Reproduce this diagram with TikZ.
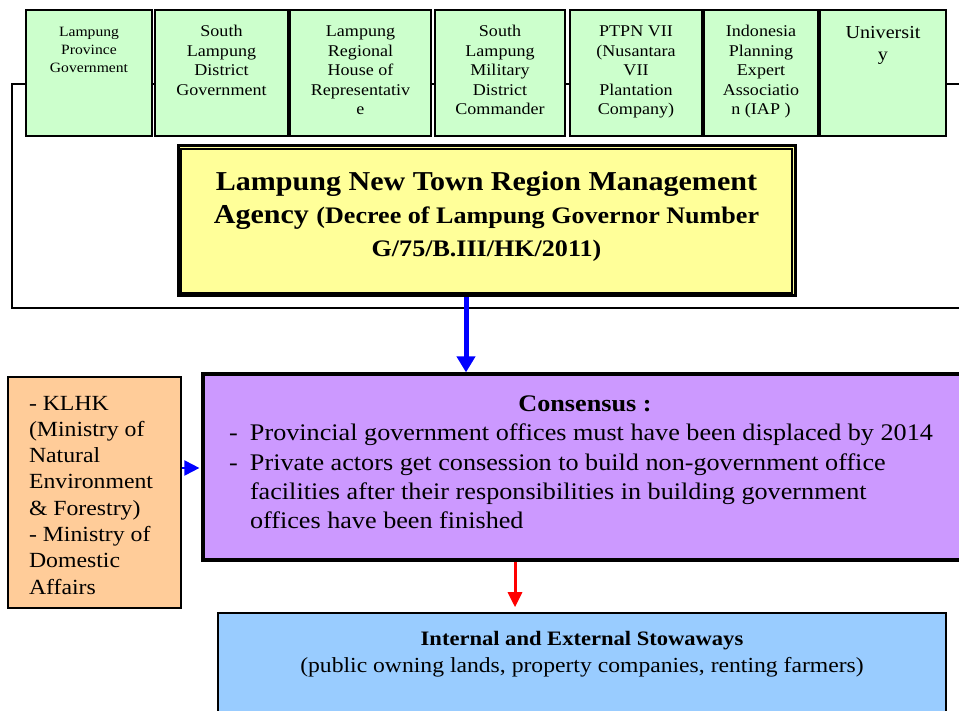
\documentclass[tikz,border=0pt]{standalone}
\usepackage{fontspec}
\setmainfont{Liberation Serif}[FakeStretch=1.1]
\usetikzlibrary{arrows.meta}

\definecolor{membergreen}{HTML}{CCFFCC}
\definecolor{agencyyellow}{HTML}{FFFF99}
\definecolor{consensuspurple}{HTML}{CC99FF}
\definecolor{ministryorange}{HTML}{FFCC99}
\definecolor{stowawayblue}{HTML}{99CCFF}

% text block of fixed height, filled from the top
\newcommand{\intext}[4]{\parbox[c][#1][t]{#2}{\vspace*{#3}#4}}

\begin{document}
\begin{tikzpicture}[x=1pt,y=-1pt]
  \tikzstyle{member}=[draw=black,line width=1.6pt,fill=membergreen,inner sep=0pt,minimum height=126pt,font={\fontsize{16.4}{19.5}\selectfont}]
  \tikzstyle{agency}=[draw=black,line width=3pt,fill=agencyyellow,inner sep=0pt,minimum width=617pt,minimum height=150pt,font={\fontsize{27.3}{33}\selectfont\bfseries}]
  \tikzstyle{consensus}=[draw=black,line width=3.2pt,fill=consensuspurple,inner sep=0pt,minimum width=764pt,minimum height=186pt,font={\fontsize{23.8}{29.5}\selectfont}]
  \tikzstyle{ministry}=[draw=black,line width=1.6pt,fill=ministryorange,inner sep=0pt,minimum width=173pt,minimum height=231pt,font={\fontsize{21.6}{26.3}\selectfont}]
  \tikzstyle{stowaway}=[draw=black,line width=1.6pt,fill=stowawayblue,inner sep=0pt,minimum width=728pt,minimum height=120pt,font={\fontsize{21.5}{27}\selectfont}]
  \tikzstyle{bracket}=[draw,line width=1.8pt,-]

  \clip (0,0) rectangle (959,711);

  % line behind the member boxes
  \coordinate (bTL) at (12,84);
  \coordinate (bTR) at (970,84);
  \coordinate (bBL) at (12,308);
  \coordinate (bBR) at (970,308);
  \path[bracket] (bTR) -- (bTL) -- (bBL) -- (bBR);

  \node[member,minimum width=126pt,font={\fontsize{14.2}{18}\selectfont}] (lpg) at (89,73)
    {\intext{126pt}{122pt}{13.9pt}{\centering\strut Lampung\\Province\\Government}};
  \node[member,minimum width=133pt] (slg) at (221.5,73)
    {\intext{126pt}{129pt}{13.35pt}{\centering\strut South\\Lampung\\District\\Government}};
  \node[member,minimum width=141pt] (dprd) at (360.5,73)
    {\intext{126pt}{137pt}{13.35pt}{\centering\strut Lampung\\Regional\\House of\\Representativ\\e}};
  \node[member,minimum width=130pt] (kodim) at (500,73)
    {\intext{126pt}{126pt}{13.35pt}{\centering\strut South\\Lampung\\Military\\District\\Commander}};
  \node[member,minimum width=132pt] (ptpn) at (636,73)
    {\intext{126pt}{128pt}{13.35pt}{\centering\strut PTPN VII\\(Nusantara\\VII\\Plantation\\Company)}};
  \node[member,minimum width=114pt] (iap) at (761,73)
    {\intext{126pt}{110pt}{13.35pt}{\centering\strut Indonesia\\Planning\\Expert\\Associatio\\n (IAP )}};
  \node[member,minimum width=126pt,font={\fontsize{18.3}{22}\selectfont}] (univ) at (883,73)
    {\intext{126pt}{122pt}{13.1pt}{\centering\strut Universit\\y}};

  \node[agency] (agency) at (486.5,221)
    {\intext{150pt}{610pt}{21.9pt}{\centering\strut Lampung New Town Region Management\\Agency {\fontsize{23.7}{33}\selectfont (Decree of Lampung Governor Number\\G/75/B.III/HK/2011)}}};
  \draw[line width=1.2pt] ([shift={(4.5pt,-4.5pt)}]agency.north west) rectangle ([shift={(-4.5pt,4.5pt)}]agency.south east);

  \node[consensus] (cons) at (585,467)
    {\intext{186pt}{764pt}{16.35pt}{\centering{\bfseries\strut Consensus :}\par
      \raggedright\leftskip=47pt
      \hspace*{-21pt}\makebox[21pt][l]{-}Provincial government offices must have been displaced by 2014\par
      \hspace*{-21pt}\makebox[21pt][l]{-}Private actors get consession to build non-government office\\
      facilities after their responsibilities in building government\\
      offices have been finished}};

  \node[ministry] (min) at (94.5,492.5)
    {\intext{231pt}{173pt}{14.6pt}{\raggedright\leftskip=21pt\strut - KLHK\\(Ministry of\\Natural\\Environment\\\& Forestry)\\- Ministry of\\Domestic\\Affairs}};

  \node[stowaway] (stow) at (582,673)
    {\intext{120pt}{728pt}{13.1pt}{\centering\strut{\bfseries\fontsize{20.5}{27}\selectfont Internal and External Stowaways}\\(public owning lands, property companies, renting farmers)}};

  \draw[blue,line width=5pt,-{Triangle[width=18pt,length=16pt]}] ([xshift=-20.5pt]agency.south) -- ([xshift=-20.5pt]agency.south |- cons.north);
  \draw[blue,line width=2pt,shorten >=2pt,-{Triangle[width=15pt,length=15pt]}] ([yshift=24.5pt]min.east) -- ([yshift=24.5pt]min.east -| cons.west);
  \draw[red,line width=3pt,shorten >=5pt,-{Triangle[width=14pt,length=15pt]}] ([xshift=-70pt]cons.south) -- ([xshift=-70pt]cons.south |- stow.north);
\end{tikzpicture}
\end{document}
